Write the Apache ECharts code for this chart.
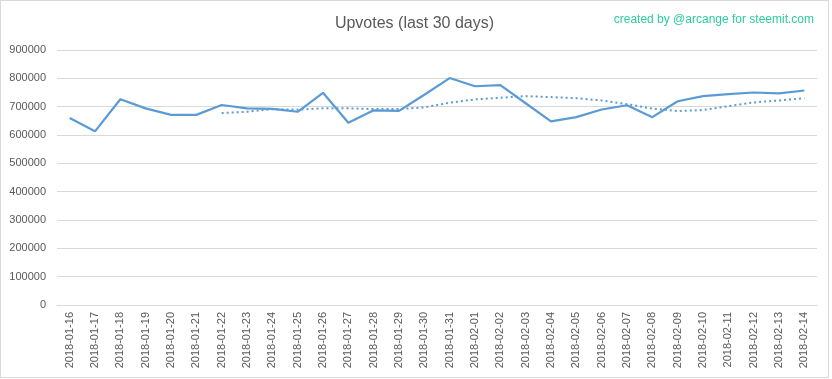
<!DOCTYPE html>
<html><head><meta charset="utf-8">
<script src="https://cdn.jsdelivr.net/npm/echarts@6/dist/echarts.min.js"></script>
<style>
html,body{margin:0;padding:0;background:#fff;}
#c{width:829px;height:378px;border:1px solid #d9d9d9;box-sizing:border-box;}
</style></head>
<body><div id="c"></div>
<script>
const categories = ['2018-01-16','2018-01-17','2018-01-18','2018-01-19','2018-01-20','2018-01-21','2018-01-22','2018-01-23','2018-01-24','2018-01-25','2018-01-26','2018-01-27','2018-01-28','2018-01-29','2018-01-30','2018-01-31','2018-02-01','2018-02-02','2018-02-03','2018-02-04','2018-02-05','2018-02-06','2018-02-07','2018-02-08','2018-02-09','2018-02-10','2018-02-11','2018-02-12','2018-02-13','2018-02-14'];
const upvotes = [660000,613000,726000,694000,671000,671000,706000,694000,692000,682000,749000,643000,687000,685000,742000,801000,772000,776000,712000,648000,663000,690000,705000,663000,719000,737000,744000,750000,747000,757000];
const trend = [null,null,null,null,null,null,677500,682000,691000,689500,694000,694000,691600,691600,697500,714000,725600,731500,737000,733800,729800,722000,709000,693000,684600,688000,702000,715000,722000,729800];
const yTicks = {min:0,max:900000,interval:100000};

const chart = echarts.init(document.getElementById('c'), null, {renderer:'canvas'});
chart.setOption({
  animation:false,
  backgroundColor:'#fff',
  title:[{
    text:'Upvotes (last 30 days)', left:'center', top:10,
    textStyle:{fontFamily:'Liberation Sans',fontSize:16,fontWeight:'normal',color:'#595959'}
  },{
    text:'created by @arcange for steemit.com', right:9, top:8,
    textStyle:{fontFamily:'Liberation Sans',fontSize:12,fontWeight:'normal',color:'#2ccca0'}
  }],
  grid:{left:56,right:11,top:49,bottom:72,containLabel:false},
  xAxis:{
    type:'category', data:categories, boundaryGap:true,
    axisLine:{lineStyle:{color:'#d9d9d9'}},
    axisTick:{show:false},
    axisLabel:{rotate:90,interval:0,color:'#595959',fontFamily:'Liberation Sans',fontSize:11,margin:7}
  },
  yAxis:{
    type:'value', min:yTicks.min, max:yTicks.max, interval:yTicks.interval,
    axisLine:{show:false}, axisTick:{show:false},
    splitLine:{lineStyle:{color:'#d9d9d9'}},
    axisLabel:{color:'#595959',fontFamily:'Liberation Sans',fontSize:11,margin:11,
      formatter:function(v){return String(v);}}
  },
  series:[{
    type:'line', data:upvotes, showSymbol:false, symbol:'none',
    lineStyle:{color:'#5b9bd5',width:2.2}
  },{
    type:'line', data:trend, showSymbol:false, symbol:'none',
    lineStyle:{color:'#5b9bd5',width:2,type:[2,3]}
  }]
});
</script></body></html>
